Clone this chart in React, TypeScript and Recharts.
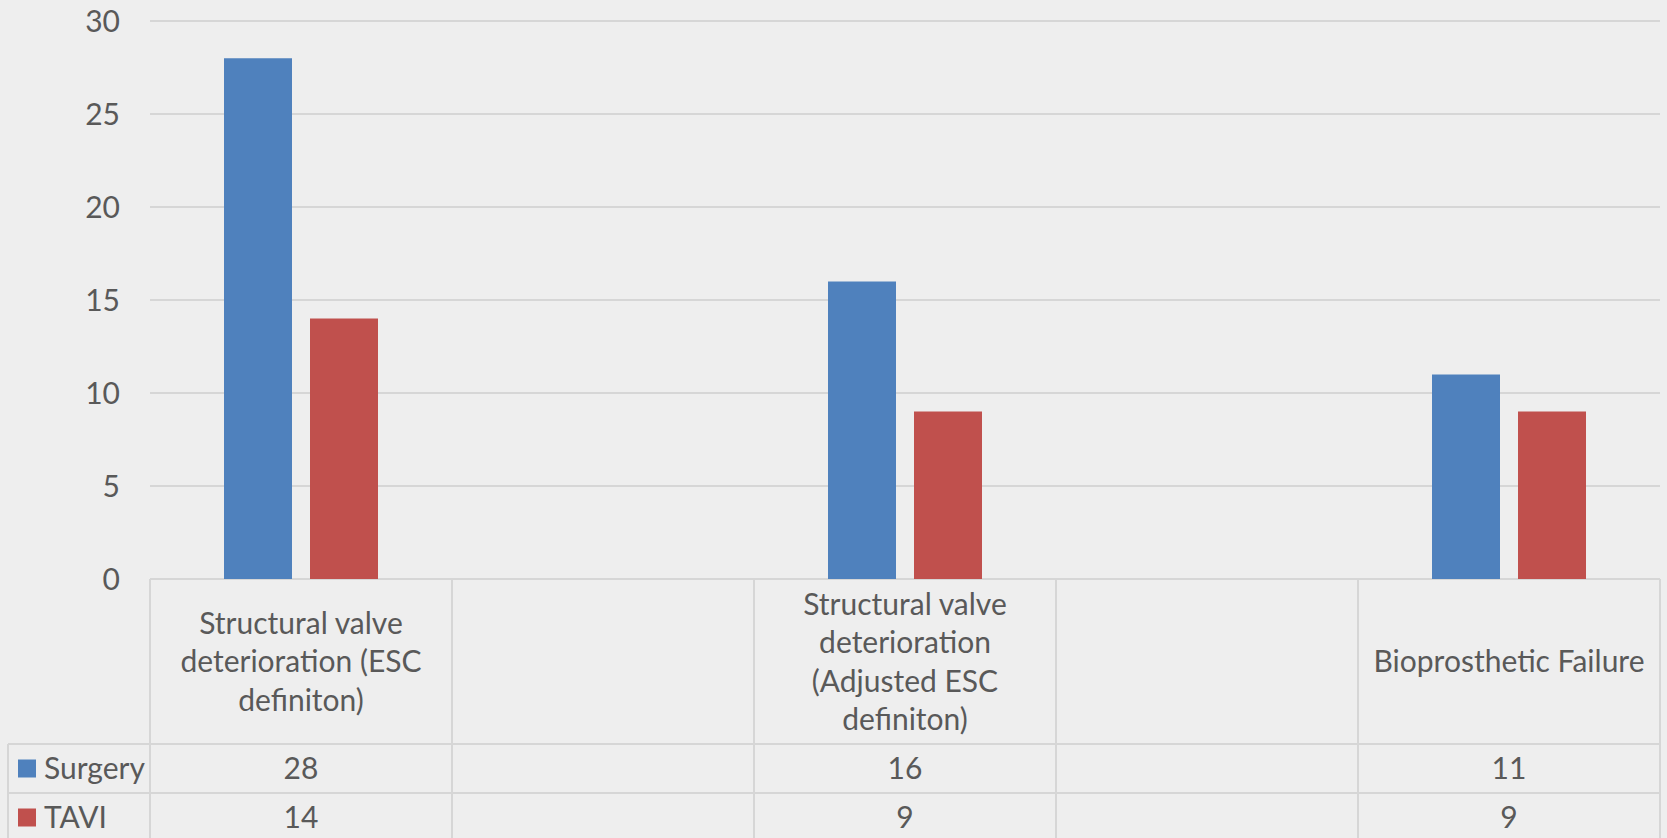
import { BarChart, Bar, XAxis, YAxis, CartesianGrid } from "recharts";

// categories in the data table (empty ones are spacer columns in the original)
const categories = [
  "Structural valve deterioration (ESC definiton)",
  "",
  "Structural valve deterioration (Adjusted ESC definiton)",
  "",
  "Bioprosthetic Failure",
];
// how each category label wraps inside its cell
const categoryLines = [
  ["Structural valve", "deterioration (ESC", "definiton)"],
  [],
  ["Structural valve", "deterioration", "(Adjusted ESC", "definiton)"],
  [],
  ["Bioprosthetic Failure"],
];
const surgery = [28, null, 16, null, 11];
const tavi = [14, null, 9, null, 9];
const yTicks = [0, 5, 10, 15, 20, 25, 30];
const seriesNames = ["Surgery", "TAVI"];
const seriesColors = ["#4f81bd", "#c0504d"];

const W = 1667;
const H = 838;
const margin = { top: 21, right: 7, left: 0, bottom: 0 };
const yAxisWidth = 150;
const xAxisHeight = H - margin.top - 558;
const plotWidth = W - margin.left - margin.right - yAxisWidth;
const band = plotWidth / categories.length;
const font = "Lato, 'Open Sans', sans-serif";
const fontSize = 30;
const textColor = "#595959";
const lineColor = "#d6d6d6";

const data = categories.map((name, i) => ({
  name,
  surgery: surgery[i],
  tavi: tavi[i],
}));

const seriesValues = [surgery, tavi];

function TableTick(props: any) {
  const { x, y, payload } = props;
  const i = payload?.index ?? props.index;
  const left = x - band / 2;
  const right = x + band / 2;
  const labelH = 165;
  const rowH = 49;
  const bottom = y + labelH + rowH * 2 + 20;
  const lines = categoryLines[i] || [];
  const lh = 38.5;
  const labelMid = y + labelH / 2;
  const firstLine = labelMid - ((lines.length - 1) * lh) / 2;
  const isFirst = i === 0;
  const isLast = i === categories.length - 1;
  const tableLeft = 8;
  const tableRight = left + band * (categories.length - i);

  return (
    <g>
      {isFirst && (
        <g>
          <line x1={tableLeft} x2={tableRight} y1={y + labelH} y2={y + labelH} stroke={lineColor} strokeWidth={2} />
          <line x1={tableLeft} x2={tableRight} y1={y + labelH + rowH} y2={y + labelH + rowH} stroke={lineColor} strokeWidth={2} />
          <line x1={tableLeft} x2={tableLeft} y1={y + labelH} y2={bottom} stroke={lineColor} strokeWidth={2} />
          {seriesNames.map((s, k) => {
            const cy = y + labelH + rowH * k + rowH / 2;
            return (
              <g key={s}>
                <rect x={18} y={cy - 9} width={18} height={18} fill={seriesColors[k]} />
                <text x={44} y={cy} dy="0.36em" fill={textColor} fontSize={fontSize} fontFamily={font}>
                  {s}
                </text>
              </g>
            );
          })}
        </g>
      )}
      <line x1={left} x2={left} y1={y} y2={bottom} stroke={lineColor} strokeWidth={2} />
      {isLast && <line x1={right} x2={right} y1={y} y2={bottom} stroke={lineColor} strokeWidth={2} />}
      {lines.map((t, k) => (
        <text key={k} x={x} y={firstLine + k * lh} dy="0.36em" textAnchor="middle" fill={textColor} fontSize={fontSize} fontFamily={font}>
          {t}
        </text>
      ))}
      {seriesValues.map((vals, k) => (
        <text
          key={k}
          x={x}
          y={y + labelH + rowH * k + rowH / 2}
          dy="0.36em"
          textAnchor="middle"
          fill={textColor}
          fontSize={fontSize}
          fontFamily={font}
        >
          {vals[i] ?? ""}
        </text>
      ))}
    </g>
  );
}

export default function App() {
  return (
    <div
      style={{
        position: "absolute",
        left: 0,
        top: 0,
        width: W,
        height: H,
        background: "#eeeeee",
        overflow: "hidden",
      }}
    >
      <BarChart width={W} height={H} data={data} margin={margin} barSize={68} barGap={18}>
        <CartesianGrid vertical={false} stroke={lineColor} strokeWidth={2} />
        <XAxis
          dataKey="name"
          height={xAxisHeight}
          axisLine={false}
          tickLine={false}
          tickSize={0}
          tickMargin={0}
          interval={0}
          tick={<TableTick />}
        />
        <YAxis
          width={yAxisWidth}
          domain={[0, 30]}
          ticks={yTicks}
          axisLine={false}
          tickLine={false}
          tickSize={0}
          tickMargin={30}
          tick={{ fill: textColor, fontSize: fontSize, fontFamily: font }}
        />
        <Bar dataKey="surgery" name="Surgery" fill={seriesColors[0]} isAnimationActive={false} />
        <Bar dataKey="tavi" name="TAVI" fill={seriesColors[1]} isAnimationActive={false} />
      </BarChart>
    </div>
  );
}
